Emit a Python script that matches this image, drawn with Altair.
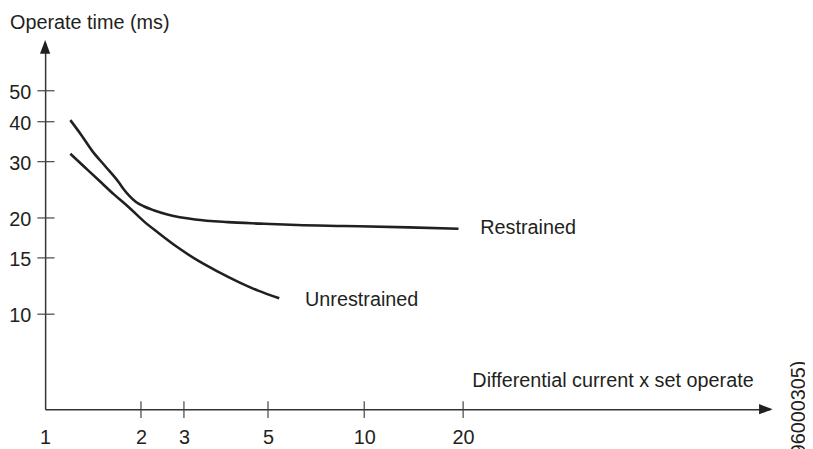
import altair as alt
import pandas as pd

# ---- data ----
restrained_x = [1.263, 1.377, 1.491, 1.632, 1.770, 1.822, 1.884, 1.945, 2.062, 2.293, 2.638,
                3.266, 4.044, 4.821, 6.512, 8.930, 14.52, 19.53]
restrained_y = [40.46, 36.36, 32.43, 28.93, 25.82, 24.56, 23.36, 22.47, 21.76, 21.15, 20.48,
                19.79, 19.41, 19.20, 19.00, 18.87, 18.69, 18.51]
unrestrained_x = [1.263, 1.408, 1.563, 1.718, 1.873, 2.062, 2.408, 2.869, 3.337, 3.808, 4.279,
                  4.750, 5.586]
unrestrained_y = [31.75, 28.93, 26.19, 23.70, 21.60, 19.55, 17.95, 16.13, 14.70, 13.59, 12.65,
                  11.87, 11.21]

x_tick_labels = [1, 2, 3, 5, 10, 20]
x_tick_marks = [2, 3, 5, 10, 20]
y_ticks = [10, 15, 20, 30, 40, 50]

y_title = "Operate time (ms)"
x_title = "Differential current x set operate"
series_names = ["Restrained", "Unrestrained"]
figure_id = "(96000305)"

# ---- layout ----
W, H = 732, 370
FONT = "Liberation Sans"
INK = "#231f20"

df = pd.DataFrame(
    {"x": restrained_x + unrestrained_x,
     "y": restrained_y + unrestrained_y,
     "series": [series_names[0]] * len(restrained_x) + [series_names[1]] * len(unrestrained_x)}
)

xscale = alt.Scale(type="linear", domain=[1, 2, 3, 5, 10, 20, 180],
                   range=[0, 96.8, 140.2, 225.1, 322.3, 422.2, W], nice=False, zero=False)
yscale = alt.Scale(type="log", domain=[5.044, 70.6], nice=False)

xaxis = alt.Axis(values=x_tick_labels, title=None, ticks=False, grid=False,
                 labelPadding=18.5, labelFlush=False, labelOverlap=False,
                 domain=True, domainColor="#333333", domainWidth=1.5,
                 labelFont=FONT, labelFontSize=20, labelColor=INK)
yaxis = alt.Axis(values=y_ticks, title=None, ticks=False, grid=False,
                 labelPadding=14.5, labelFlush=False, labelOverlap=False,
                 labelOffset=1.5, labelBaseline="middle",
                 domain=True, domainColor="#333333", domainWidth=1.5,
                 labelFont=FONT, labelFontSize=20, labelColor=INK)

lines = alt.Chart(df).mark_line(interpolate="monotone", strokeWidth=2.6, color=INK).encode(
    x=alt.X("x:Q", scale=xscale, axis=xaxis),
    y=alt.Y("y:Q", scale=yscale, axis=yaxis),
    detail="series:N",
)

xt = alt.Chart(pd.DataFrame({"v": x_tick_marks})).mark_rule(color="#444444", strokeWidth=1.2).encode(
    x=alt.X("v:Q", scale=xscale, axis=xaxis),
    y=alt.value(362), y2=alt.value(379),
)
yt = alt.Chart(pd.DataFrame({"v": y_ticks})).mark_rule(color="#444444", strokeWidth=1.2).encode(
    y=alt.Y("v:Q", scale=yscale, axis=yaxis),
    x=alt.value(-7.8), x2=alt.value(9.5),
)

one = pd.DataFrame({"a": [0]})
arrow_up = alt.Chart(one).mark_point(shape="M0,-1L-0.75,1L0.75,1Z", size=190, filled=True,
                                     color=INK, opacity=1, strokeWidth=0).encode(
    x=alt.value(0), y=alt.value(4))
arrow_right = alt.Chart(one).mark_point(shape="M1,0L-1,-0.75L-1,0.75Z", size=190, filled=True,
                                        color=INK, opacity=1, strokeWidth=0).encode(
    x=alt.value(W - 4), y=alt.value(H))


def label(text, x, y, **kw):
    return alt.Chart(pd.DataFrame({"t": [text]})).mark_text(
        font=FONT, fontSize=20, color=INK, align=kw.pop("align", "left"),
        baseline=kw.pop("baseline", "alphabetic"), **kw
    ).encode(x=alt.value(x), y=alt.value(y), text="t:N")


texts = [
    label(y_title, -35.5, -14.5),
    label(x_title, 431.5, 348),
    label(series_names[0], 439.5, 193.3),
    label(series_names[1], 262.5, 266),
    label(figure_id, 762, 321, angle=270, align="right", baseline="middle"),
]

chart = alt.layer(lines, xt, yt, arrow_up, arrow_right, *texts).properties(
    width=W, height=H,
    autosize=alt.AutoSizeParams(type="none"),
    padding={"left": 37.5, "top": 33, "right": 35.5, "bottom": 38},
).configure_view(strokeWidth=0)

chart.save("out.html", embed_options={"renderer": "svg", "actions": False})
